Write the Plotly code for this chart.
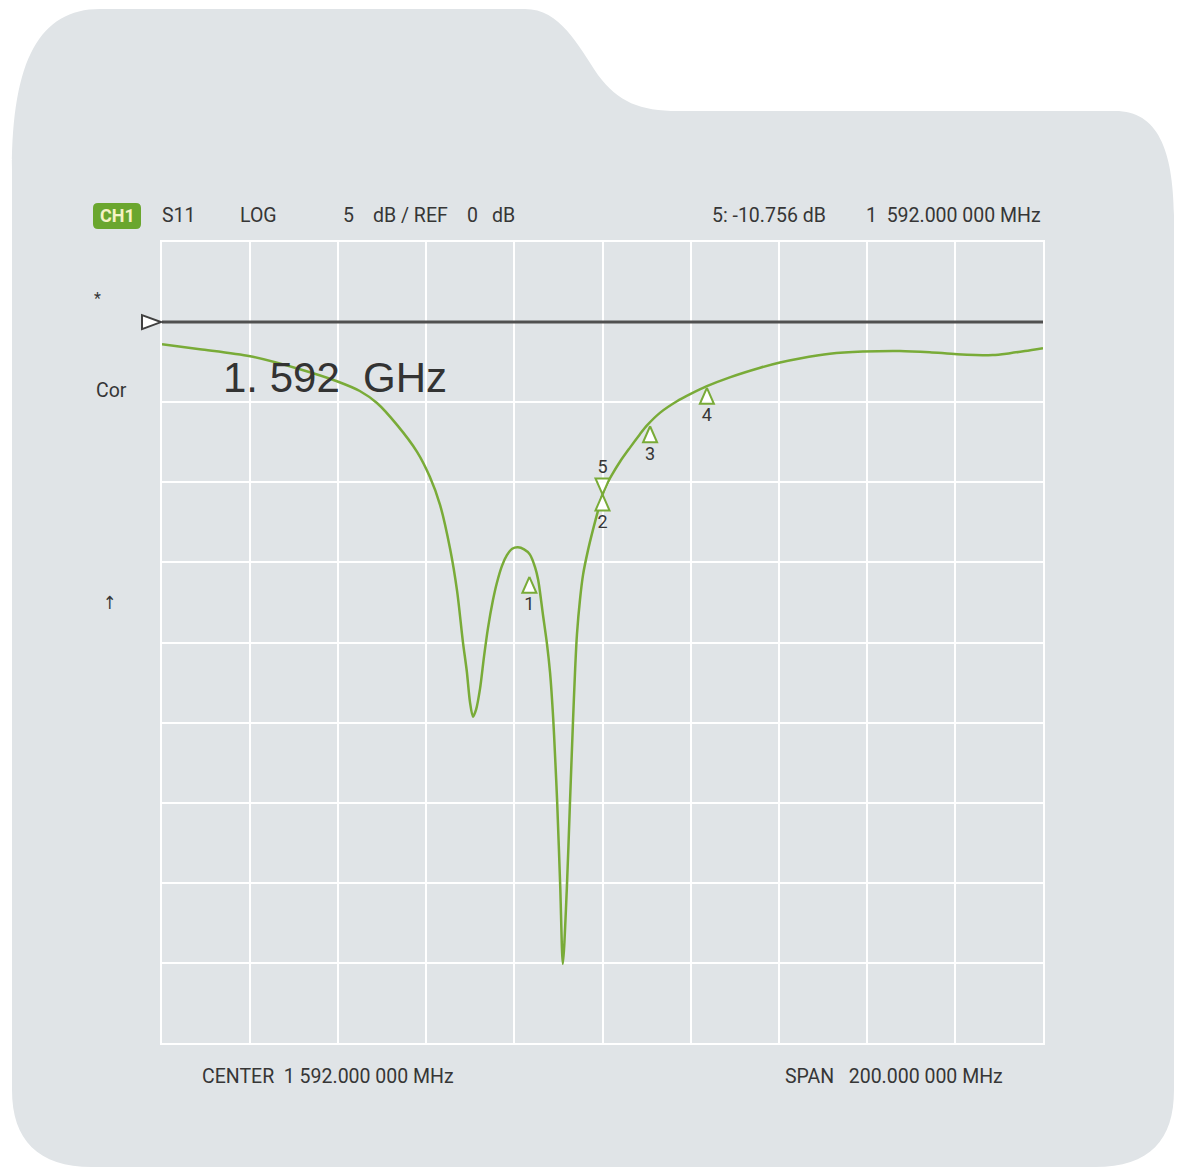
import plotly.graph_objects as go

# ---- instrument settings -------------------------------------------------
CENTER_MHZ = 1592.0
SPAN_MHZ = 200.0
REF_DB = 0.0
SCALE_DB = 5.0          # dB per division
REF_POS_DIV = 9         # reference line sits 9 divisions above the bottom
N_DIV = 10

F_START = CENTER_MHZ - SPAN_MHZ / 2
F_STOP = CENTER_MHZ + SPAN_MHZ / 2
Y_MIN = REF_DB - REF_POS_DIV * SCALE_DB
Y_MAX = Y_MIN + N_DIV * SCALE_DB

# ---- measured S11 trace --------------------------------------------------
freq_mhz = [
    1492.0, 1500.6, 1512.0, 1523.3, 1531.7, 1536.9, 1540.8, 1545.3, 1549.9,
    1552.8, 1555.1, 1557.4, 1559.0, 1560.3, 1561.2, 1561.9, 1562.6, 1563.3,
    1564.2, 1565.1, 1566.0, 1567.1, 1568.0, 1569.2, 1570.3, 1571.5, 1572.8,
    1574.2, 1575.5, 1576.7, 1577.4, 1578.5, 1579.4, 1580.1, 1580.8, 1581.2,
    1581.7, 1582.4, 1583.0, 1583.9, 1584.6, 1585.3, 1585.8, 1586.2,
    1586.9, 1587.6, 1588.7, 1589.8, 1591.2, 1592.0, 1593.0, 1594.2, 1596.0,
    1598.2, 1600.5, 1602.1, 1605.1, 1608.9, 1611.9, 1615.7, 1620.9, 1627.8,
    1632.3, 1636.8, 1643.6, 1651.1, 1659.5, 1666.3, 1672.5, 1680.6, 1684.5,
    1687.9, 1692.0,
]
s11_db = [
    -1.38, -1.69, -2.13, -2.94, -3.69, -4.30, -5.05, -6.40, -8.10,
    -9.66, -11.39, -14.15, -16.81, -19.94, -21.81, -23.69, -24.63, -24.19,
    -22.88, -20.88, -19.10, -17.40, -16.30, -15.20, -14.55, -14.15, -14.06,
    -14.19, -14.50, -15.31, -16.10, -18.30, -20.10, -21.90, -24.70, -26.90,
    -29.90, -35.20, -40.06, -35.38, -30.13, -24.94, -21.60, -19.50,
    -17.30, -15.75, -14.25, -13.00, -11.55, -10.76, -10.10, -9.50, -8.70,
    -7.85, -7.00, -6.45, -5.65, -4.94, -4.50, -4.00, -3.45, -2.85,
    -2.52, -2.27, -1.98, -1.84, -1.80, -1.88, -2.00, -2.06, -1.94,
    -1.81, -1.63,
]

# ---- markers -------------------------------------------------------------
marker_ids = ["1", "2", "3", "4", "5"]
marker_freq = [1575.4, 1592.0, 1602.8, 1615.7, 1592.0]
marker_db = [-15.9, -10.756, -6.5, -4.1, -10.756]
marker_up = [True, True, True, True, False]

ACTIVE_MARKER = 4   # marker 5 shown in the header readout

# ---- page geometry (pixels) ----------------------------------------------
W, H = 1177, 1169
PL, PR, PT, PB = 162, 1043, 242, 1043
PX_PER_MHZ = (PR - PL) / SPAN_MHZ
PX_PER_DB = (PB - PT) / (Y_MAX - Y_MIN)

BG = "#e0e4e7"
TRACE = "#79ab38"
TEXT = "#363636"
FONT = "Roboto, 'DejaVu Sans Condensed', sans-serif"


def px(x, y):
    """Convert page pixels to paper coordinates."""
    return (x - PL) / (PR - PL), (PB - y) / (PB - PT)


def path_from_px(cmds, close=True):
    out = []
    for c in cmds:
        op, pts = c[0], c[1:]
        coords = []
        for (x, y) in pts:
            xp, yp = px(x, y)
            coords.append(f"{xp:.5f},{yp:.5f}")
        out.append(op + " " + " ".join(coords))
    return " ".join(out) + (" Z" if close else "")


fig = go.Figure()

# S11 trace
fig.add_trace(go.Scatter(
    x=freq_mhz, y=s11_db, mode="lines",
    line=dict(color=TRACE, width=2.5, shape="spline", smoothing=0.8),
    hoverinfo="skip", showlegend=False,
))

# marker triangles (apex on the marker value) and their numbers
tri_half_w = 7 / PX_PER_MHZ
tri_h = 16 / PX_PER_DB
label_gap = 13 / PX_PER_DB
tx, ty = [], []
lx, ly = [], []
for f, d, up in zip(marker_freq, marker_db, marker_up):
    base = d - tri_h if up else d + tri_h
    tx += [f, f - tri_half_w, f + tri_half_w, f, None]
    ty += [d, base, base, d, None]
    lx.append(f)
    ly.append(base - label_gap if up else base + label_gap * 0.8)
fig.add_trace(go.Scatter(
    x=tx, y=ty, mode="lines", fill="toself", fillcolor="white",
    line=dict(color=TRACE, width=2), hoverinfo="skip", showlegend=False,
))
fig.add_trace(go.Scatter(
    x=lx, y=ly, mode="text", text=marker_ids,
    textfont=dict(family=FONT, size=18, color=TEXT),
    hoverinfo="skip", showlegend=False, cliponaxis=False,
))

shapes = []
# instrument panel background
panel = [
    ("M", (12, 1090)), ("L", (12, 170)),
    ("C", (12, 60), (40, 9), (100, 9)),
    ("L", (525, 9)),
    ("C", (560, 9), (578, 45), (598, 75)),
    ("C", (618, 102), (640, 111), (678, 111)),
    ("L", (1115, 111)),
    ("C", (1158, 111), (1173, 150), (1174, 215)),
    ("L", (1174, 1090)),
    ("C", (1174, 1140), (1150, 1167), (1095, 1167)),
    ("L", (92, 1167)),
    ("C", (38, 1167), (12, 1140), (12, 1090)),
]
shapes.append(dict(type="path", xref="paper", yref="paper", layer="below",
                   path=path_from_px(panel), fillcolor=BG, line=dict(width=0)))

# reference level line and pointer
shapes.append(dict(type="line", xref="paper", yref="y", x0=0, x1=1,
                   y0=REF_DB, y1=REF_DB, line=dict(color="#505050", width=3)))
ref_y = PB - (REF_DB - Y_MIN) * PX_PER_DB
pointer = [("M", (142, ref_y - 7)), ("L", (142, ref_y + 7)), ("L", (161, ref_y))]
shapes.append(dict(type="path", xref="paper", yref="paper",
                   path=path_from_px(pointer), fillcolor="white",
                   line=dict(color="#404040", width=2)))

# CH1 badge (rounded)
badge = [
    ("M", (98, 203)), ("L", (136, 203)), ("Q", (141, 203), (141, 208)),
    ("L", (141, 224)), ("Q", (141, 229), (136, 229)), ("L", (98, 229)),
    ("Q", (93, 229), (93, 224)), ("L", (93, 208)), ("Q", (93, 203), (98, 203)),
]
shapes.append(dict(type="path", xref="paper", yref="paper",
                   path=path_from_px(badge), fillcolor="#6aa62e",
                   line=dict(width=0)))

NB = "\u00a0"
header_left = [
    ("S11", 160), ("LOG", 238), ("5", 341), ("dB / REF", 371), ("0", 465), ("dB", 490),
]
readout = f"{marker_ids[ACTIVE_MARKER]}: {marker_db[ACTIVE_MARKER]:.3f} dB"
readout_freq = f"1{NB}{NB}592.000 000 MHz"
center_text = f"CENTER{NB}{NB}1 592.000 000 MHz"
span_text = f"SPAN{NB}{NB}{NB}200.000 000 MHz"
big_text = f"1.{NB}592{NB}{NB}GHz"

annotations = []


def add_text(text, x, y, anchor="left", size=19.5, color=TEXT, family=FONT):
    xp, yp = px(x, y)
    annotations.append(dict(
        text=text, x=xp, y=yp, xref="paper", yref="paper",
        xanchor=anchor, yanchor="middle", showarrow=False,
        font=dict(family=family, size=size, color=color),
    ))


add_text("<b>CH1</b>", 117, 216, anchor="center", size=18, color="#f6f2c4")
for t, x in header_left:
    add_text(t, x, 216)
add_text(readout, 710, 216)
add_text(readout_freq, 1043, 216, anchor="right")
add_text("*", 97, 299, anchor="center", size=16)
add_text("Cor", 94, 390)
add_text("\u2191", 110, 602, anchor="center", size=18)
add_text(big_text, 221, 377, size=42, color="#333333",
         family="'Liberation Sans', Arial, sans-serif")
add_text(center_text, 200, 1076)
add_text(span_text, 783, 1076)

fig.update_layout(
    width=W, height=H, autosize=False,
    margin=dict(l=PL, r=W - PR, t=PT, b=H - PB, pad=0),
    paper_bgcolor="white", plot_bgcolor="rgba(0,0,0,0)",
    shapes=shapes, annotations=annotations, showlegend=False,
    xaxis=dict(range=[F_START, F_STOP], dtick=SPAN_MHZ / N_DIV, tick0=F_START,
               showgrid=True, gridcolor="white", gridwidth=2,
               showline=True, linecolor="white", linewidth=2, mirror=True,
               zeroline=False, showticklabels=False, ticks="", fixedrange=True),
    yaxis=dict(range=[Y_MIN, Y_MAX], dtick=SCALE_DB, tick0=Y_MIN,
               showgrid=True, gridcolor="white", gridwidth=2,
               showline=True, linecolor="white", linewidth=2, mirror=True,
               zeroline=False, showticklabels=False, ticks="", fixedrange=True),
)

fig.write_html("out.html", config={"displayModeBar": False})
